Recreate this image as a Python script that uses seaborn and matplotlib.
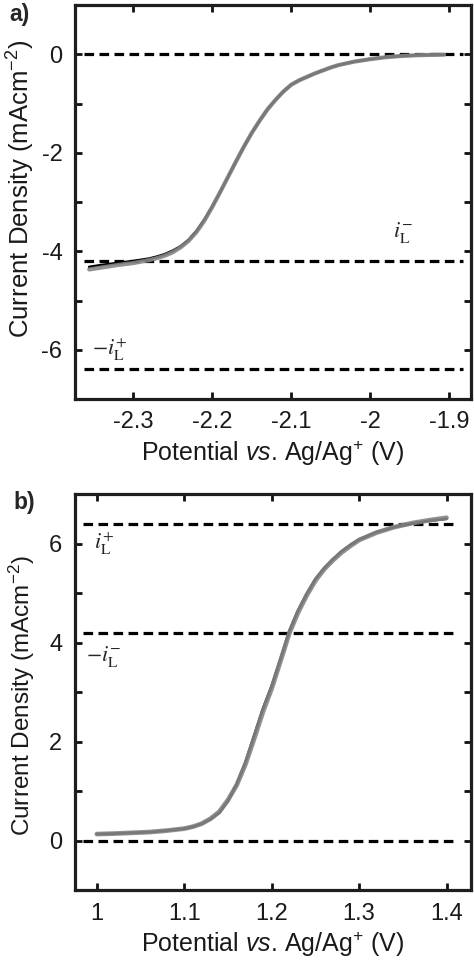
import numpy as np
import pandas as pd
import matplotlib
matplotlib.use("Agg")
import matplotlib.pyplot as plt
import seaborn as sns

sns.set_style("ticks")
plt.rcParams['font.family'] = ['Liberation Sans', 'DejaVu Sans']
plt.rcParams['axes.unicode_minus'] = False
plt.rcParams['mathtext.fontset'] = 'custom'
plt.rcParams['mathtext.rm'] = 'Liberation Sans'
plt.rcParams['mathtext.it'] = 'Liberation Sans:italic'
plt.rcParams['mathtext.bf'] = 'Liberation Sans:bold'

# ---- Panel a data ----
a_potential = [-2.356, -2.34, -2.32, -2.30, -2.29, -2.28, -2.27, -2.26, -2.25, -2.24,
               -2.23, -2.22, -2.21, -2.20, -2.19, -2.18, -2.17, -2.16, -2.15, -2.14,
               -2.13, -2.12, -2.11, -2.10, -2.09, -2.08, -2.07, -2.06, -2.05, -2.04,
               -2.02, -2.00, -1.98, -1.96, -1.94, -1.92, -1.906]
a_current_black = [-4.32, -4.28, -4.24, -4.20, -4.175, -4.15, -4.11, -4.06, -3.99, -3.90,
                   -3.77, -3.59, -3.36, -3.09, -2.80, -2.49, -2.18, -1.88, -1.60, -1.35,
                   -1.12, -0.93, -0.76, -0.62, -0.53, -0.46, -0.39, -0.33, -0.27, -0.22,
                   -0.15, -0.10, -0.06, -0.035, -0.02, -0.012, -0.008]
a_current_grey = [-4.37, -4.33, -4.28, -4.24, -4.21, -4.18, -4.14, -4.09, -4.02, -3.92,
                  -3.79, -3.61, -3.38, -3.10, -2.80, -2.49, -2.18, -1.88, -1.60, -1.35,
                  -1.12, -0.93, -0.76, -0.62, -0.53, -0.46, -0.39, -0.33, -0.27, -0.22,
                  -0.15, -0.10, -0.06, -0.035, -0.02, -0.012, -0.008]
a_limits = [0.0, -4.2, -6.4]
a_xticks = [-2.3, -2.2, -2.1, -2.0, -1.9]
a_xticklabels = ['-2.3', '-2.2', '-2.1', '-2', '-1.9']
a_yticks = [-6, -4, -2, 0]
a_yticklabels = ['-6', '-4', '-2', '0']

# ---- Panel b data ----
b_potential = [1.00, 1.02, 1.04, 1.06, 1.08, 1.10, 1.11, 1.12, 1.13, 1.14, 1.15, 1.16,
               1.17, 1.18, 1.19, 1.20, 1.21, 1.22, 1.23, 1.24, 1.25, 1.26, 1.27, 1.28,
               1.29, 1.30, 1.32, 1.34, 1.36, 1.38, 1.40]
b_current_black = [0.13, 0.14, 0.155, 0.17, 0.20, 0.24, 0.28, 0.34, 0.43, 0.56, 0.80, 1.14,
                   1.58, 2.12, 2.66, 3.12, 3.66, 4.22, 4.64, 4.98, 5.28, 5.50, 5.68, 5.84,
                   5.97, 6.08, 6.23, 6.33, 6.40, 6.46, 6.50]
b_current_grey = [0.13, 0.14, 0.155, 0.17, 0.20, 0.24, 0.28, 0.34, 0.44, 0.58, 0.82, 1.12,
                  1.54, 2.06, 2.60, 3.07, 3.62, 4.18, 4.60, 4.95, 5.25, 5.48, 5.66, 5.82,
                  5.95, 6.07, 6.22, 6.33, 6.41, 6.47, 6.52]
b_limits = [6.4, 4.2, 0.0]
b_xticks = [1.0, 1.1, 1.2, 1.3, 1.4]
b_xticklabels = ['1', '1.1', '1.2', '1.3', '1.4']
b_yticks = [0, 2, 4, 6]
b_yticklabels = ['0', '2', '4', '6']

W, H = 474, 961
fig = plt.figure(figsize=(W / 100, H / 100), dpi=100)

def pos(l, t, r, b):
    return [l / W, 1 - b / H, (r - l) / W, (b - t) / H]

ax_a = fig.add_axes(pos(75, 5, 471, 399))
ax_b = fig.add_axes(pos(75, 494, 471, 890))

TFS = 17
TXT = '#1a1a1a'
ylab = 'Current Density (mAcm$^{-2}$)'
xlab = 'Potential $vs$. Ag/Ag$^{+}$ (V)'

def style(ax, xlim, ylim, xticks, xticklabels, yticks, yticklabels, yfs, ycoords):
    ax.set_xlim(*xlim)
    ax.set_ylim(*ylim)
    ax.set_xticks(xticks)
    ax.set_xticklabels(xticklabels)
    ax.set_yticks(yticks)
    ax.set_yticklabels(yticklabels)
    ax.set_yticks(np.arange(yticks[0] - 1, yticks[-1] + 1.01, 1), minor=True)
    ax.tick_params(which='both', direction='in', top=True, right=True,
                   length=5, width=2.0, labelsize=TFS, colors='#111111',
                   labelcolor=TXT, pad=9)
    for sp in ax.spines.values():
        sp.set_linewidth(2.3)
        sp.set_color('#1e1e1e')
    ax.set_xlabel(xlab, fontsize=18, labelpad=4, color=TXT)
    ax.set_ylabel(ylab, fontsize=yfs, color=TXT)
    ax.yaxis.set_label_coords(*ycoords)

DASH = (0, (3.0, 1.7))
GREY = '#868686'

# Panel a
df_a = pd.DataFrame({'E': a_potential, 'black': a_current_black, 'grey': a_current_grey})
for y in a_limits:
    ax_a.hlines(y, -2.362, -1.882, colors='black', linestyles=DASH, linewidth=2.3)
sns.lineplot(data=df_a, x='E', y='black', ax=ax_a, color='black', linewidth=2.0)
sns.lineplot(data=df_a, x='E', y='grey', ax=ax_a, color=GREY, linewidth=3.0, alpha=0.9)
style(ax_a, (-2.374, -1.872), (-7, 0.5), a_xticks, a_xticklabels, a_yticks, a_yticklabels,
      18.5, (-0.095, 0.533))
ax_a.text(-1.958, -3.62, r'$i_{\mathrm{L}}^{-}$', fontsize=16, ha='center', va='center',
          math_fontfamily='stix')
ax_a.text(-2.33, -6.0, r'$-i_{\mathrm{L}}^{+}$', fontsize=16, ha='center', va='center',
          math_fontfamily='stix')

# Panel b
df_b = pd.DataFrame({'E': b_potential, 'black': b_current_black, 'grey': b_current_grey})
for y in b_limits:
    ax_b.hlines(y, 0.984, 1.412, colors='black', linestyles=DASH, linewidth=2.3)
sns.lineplot(data=df_b, x='E', y='black', ax=ax_b, color='black', linewidth=2.0)
sns.lineplot(data=df_b, x='E', y='grey', ax=ax_b, color=GREY, linewidth=3.4, alpha=0.9)
style(ax_b, (0.975, 1.428), (-0.5, 7), b_xticks, b_xticklabels, b_yticks, b_yticklabels,
      17.5, (-0.095, 0.49))
ax_b.text(1.008, 6.0, r'$i_{\mathrm{L}}^{+}$', fontsize=16, ha='center', va='center',
          math_fontfamily='stix')
ax_b.text(1.008, 3.72, r'$-i_{\mathrm{L}}^{-}$', fontsize=16, ha='center', va='center',
          math_fontfamily='stix')

fig.text(9 / W, 1 - 15 / H, 'a)', fontsize=16.5, fontweight='bold', va='center', ha='left')
fig.text(13 / W, 1 - 503 / H, 'b)', fontsize=16.5, fontweight='bold', va='center', ha='left')

fig.savefig('out.png', dpi=100)
